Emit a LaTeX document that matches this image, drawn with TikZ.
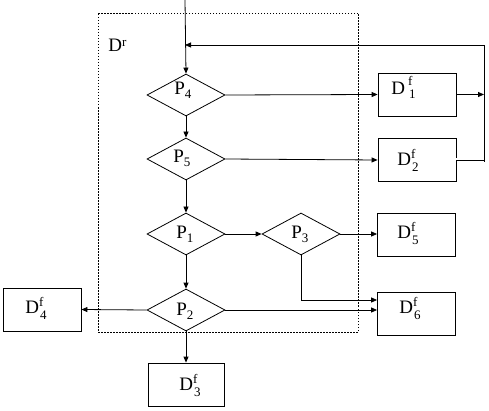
\documentclass[tikz,border=0pt]{standalone}
\usepackage{fontspec}
\setmainfont{Liberation Serif}
\usetikzlibrary{arrows.meta,shapes.geometric,calc}
\newcommand{\bigfnt}{\fontsize{19}{22}\selectfont}
\newcommand{\smlfnt}{\fontsize{13}{15}\selectfont}
\newcommand{\supsubx}[2]{\rlap{\raisebox{7pt}{\smlfnt #1}}\hspace{1pt}\raisebox{-6pt}{\smlfnt #2}}
\newcommand{\subx}[1]{\raisebox{-4pt}{\smlfnt #1}}
\newcommand{\supx}[1]{\raisebox{5pt}{\smlfnt #1}}
\begin{document}
\begin{tikzpicture}[x=1pt,y=-1pt, line width=0.8pt,
  arr/.style={-{Triangle[length=6pt,width=5pt]}},
  box/.style={draw, minimum width=78pt, minimum height=43pt, inner sep=0pt},
  dia/.style={draw, diamond, minimum width=78pt, minimum height=42pt, inner sep=0pt},
  lbl/.style={inner sep=0pt, anchor=base west, font=\bigfnt},
  frame/.style={draw, dash pattern=on 1.5pt off 1.5pt}]
\useasboundingbox (0,0) rectangle (489,411);
% dotted frame
\node[frame, minimum width=260pt, minimum height=319pt, inner sep=0pt] (Dr) at (228,172.5) {};
\node[lbl] (Drt) at (108,52) {\bigfnt D\supx{r}};
% decisions
\node[dia] (P4) at (186,95) {};
\node[dia] (P5) at (186,159) {};
\node[dia] (P1) at (186,234) {};
\node[dia] (P3) at (301,234) {};
\node[dia] (P2) at (186,310) {};
\node[lbl] (P4t) at (174,95) {\bigfnt P\subx{4}};
\node[lbl] (P5t) at (173,163) {\bigfnt P\subx{5}};
\node[lbl] (P1t) at (176,239) {\bigfnt P\subx{1}};
\node[lbl] (P3t) at (291,239) {\bigfnt P\subx{3}};
\node[lbl] (P2t) at (176,315) {\bigfnt P\subx{2}};
% boxes
\node[box] (D1) at (417,94.5) {};
\node[box] (D2) at (417,160) {};
\node[box] (D5) at (416.5,234.5) {};
\node[box] (D6) at (416.5,313.5) {};
\node[box] (D4) at (42,309.5) {};
\node[box, minimum width=76pt] (D3) at (186,384.5) {};
\node[lbl] (D1t) at (391,95) {\bigfnt D\hspace{3pt}\rlap{\raisebox{9pt}{\smlfnt f}}\hspace{1pt}\raisebox{-4pt}{\smlfnt 1}};
\node[lbl] (D2t) at (397,166) {\bigfnt D\supsubx{f}{2}};
\node[lbl] (D5t) at (397,239) {\bigfnt D\supsubx{f}{5}};
\node[lbl] (D6t) at (399,313) {\bigfnt D\supsubx{f}{6}};
\node[lbl] (D4t) at (25,313) {\bigfnt D\supsubx{f}{4}};
\node[lbl] (D3t) at (179,390) {\bigfnt D\supsubx{f}{3}};
% coordinates
\coordinate (top) at (185,0);
\coordinate (join) at (185,45);
\coordinate (fbT) at (484,45);
\coordinate (fbB) at (484,162);
\coordinate (fbM) at (484,94.5);
\coordinate (fbD) at (484,159.5);
% connectors
\draw[arr] (top) -- (P4.north);
\draw[arr] (P4.east) -- (D1.west);
\draw[arr] (P4.south) -- (P5.north);
\draw[arr] (P5.east) -- (D2.west);
\draw[arr] (P5.south) -- (P1.north);
\draw[arr] (P1.east) -- (P3.west);
\draw[arr] (P3.east) -- (P3.east -| D5.west);
\draw[arr] (P1.south) -- (P2.north);
\draw[arr] (P3.south) |- ([yshift=13.5pt]D6.west);
\draw[arr] (P2.east) -- (P2.east -| D6.west);
\draw[arr] (P2.west) -- (D4.east);
\draw[arr] (P2.south) -- (D3.north);
\draw[arr] (D1.east) -- (fbM);
\draw[double, double distance=2pt, line width=0.7pt] (D2.east |- fbD) -- (fbD);
\draw[arr] (fbB) -- (fbT) -- (join);
\end{tikzpicture}
\end{document}
